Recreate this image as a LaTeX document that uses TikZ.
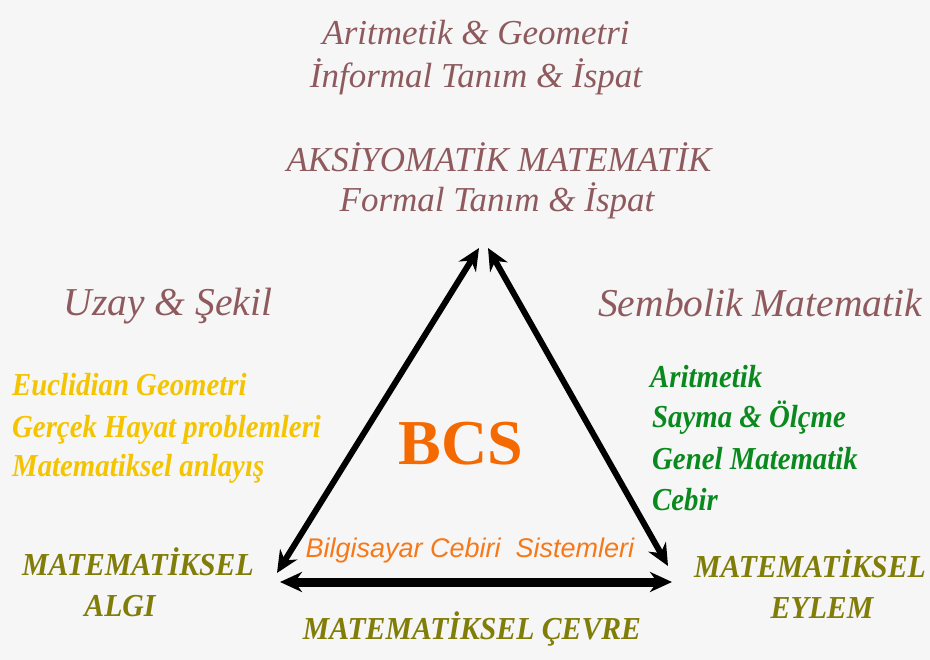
\documentclass[tikz,border=0pt]{standalone}
\usepackage{fontspec}
\setmainfont{Liberation Serif}
\newfontfamily\condfont[FakeStretch=0.93]{Liberation Serif}
\newfontfamily\listfont[FakeStretch=0.9]{Liberation Serif}
\newfontfamily\sansfont{Liberation Sans}
\usetikzlibrary{arrows.meta}
\definecolor{maroon}{HTML}{8E5A5E}
\definecolor{gold}{HTML}{F5C400}
\definecolor{leaf}{HTML}{0A8A1E}
\definecolor{olive}{HTML}{807D08}
\definecolor{bcsorange}{HTML}{F56A00}
\definecolor{bg}{HTML}{F6F6F6}
\tikzset{
  title/.style={text=maroon, font=\fontsize{35}{38}\selectfont\itshape, inner sep=0pt},
  bigtitle/.style={text=maroon, font=\fontsize{39.5}{42}\selectfont\itshape, inner sep=0pt},
  yel/.style={text=gold, font=\listfont\fontsize{32}{34}\selectfont\bfseries\itshape, anchor=west, inner sep=0pt},
  grn/.style={text=leaf, font=\listfont\fontsize{32}{34}\selectfont\bfseries\itshape, anchor=west, inner sep=0pt},
  oli/.style={text=olive, font=\condfont\fontsize{32}{34}\selectfont\bfseries\itshape, inner sep=0pt},
  thick arrow/.style={line width=6pt, {Stealth[length=22pt,width=20pt]}-{Stealth[length=22pt,width=20pt]}},
}
\begin{document}
\begin{tikzpicture}[x=1pt,y=-1pt]
\fill[bg] (0,0) rectangle (930,660);
\useasboundingbox (0,0) rectangle (930,660);

\node[title] (t1) at (476,33) {Aritmetik \& Geometri};
\node[title] (t2) at (476,77) {İnformal Tanım \& İspat};
\node[title] (t3) at (499,157) {AKSİYOMATİK MATEMATİK};
\node[title] (t4) at (497,201) {Formal Tanım \& İspat};
\node[bigtitle] (uz) at (168,306) {Uzay \& Şekil};
\node[bigtitle] (sm) at (760,303) {Sembolik Matematik};

\node[yel] (y1) at (12,385) {Euclidian Geometri};
\node[yel] (y2) at (12,430) {Gerçek Hayat problemleri};
\node[yel] (y3) at (12,469) {Matematiksel anlayış};

\node[grn] (g1) at (650,377) {Aritmetik};
\node[grn] (g2) at (652,418) {Sayma \& Ölçme};
\node[grn] (g3) at (652,459) {Genel Matematik};
\node[grn] (g4) at (652,500) {Cebir};

\node[text=bcsorange, font=\fontsize{64}{64}\selectfont\bfseries, inner sep=0pt] (bcs) at (461,444) {BCS};
\node[text=bcsorange!90!white, font=\sansfont\fontsize{27}{28}\selectfont\itshape, inner sep=0pt] (bil) at (470,551) {Bilgisayar Cebiri\ \ Sistemleri};

\node[oli] (a1) at (138,562) {MATEMATİKSEL};
\node[oli] (a2) at (120,606) {ALGI};
\node[oli] (e1) at (810,564) {MATEMATİKSEL};
\node[oli] (e2) at (822,608) {EYLEM};
\node[oli] (c1) at (472,629) {MATEMATİKSEL ÇEVRE};

\coordinate (topL) at (479,248);
\coordinate (topR) at (488,248);
\coordinate (botL) at (277,573);
\coordinate (botR) at (668,566);
\coordinate (hL) at (280,582);
\coordinate (hR) at (672,582);

\draw[thick arrow] (botL) -- (topL);
\draw[thick arrow] (topR) -- (botR);
\draw[thick arrow, line width=9pt] (hL) -- (hR);
\end{tikzpicture}
\end{document}
